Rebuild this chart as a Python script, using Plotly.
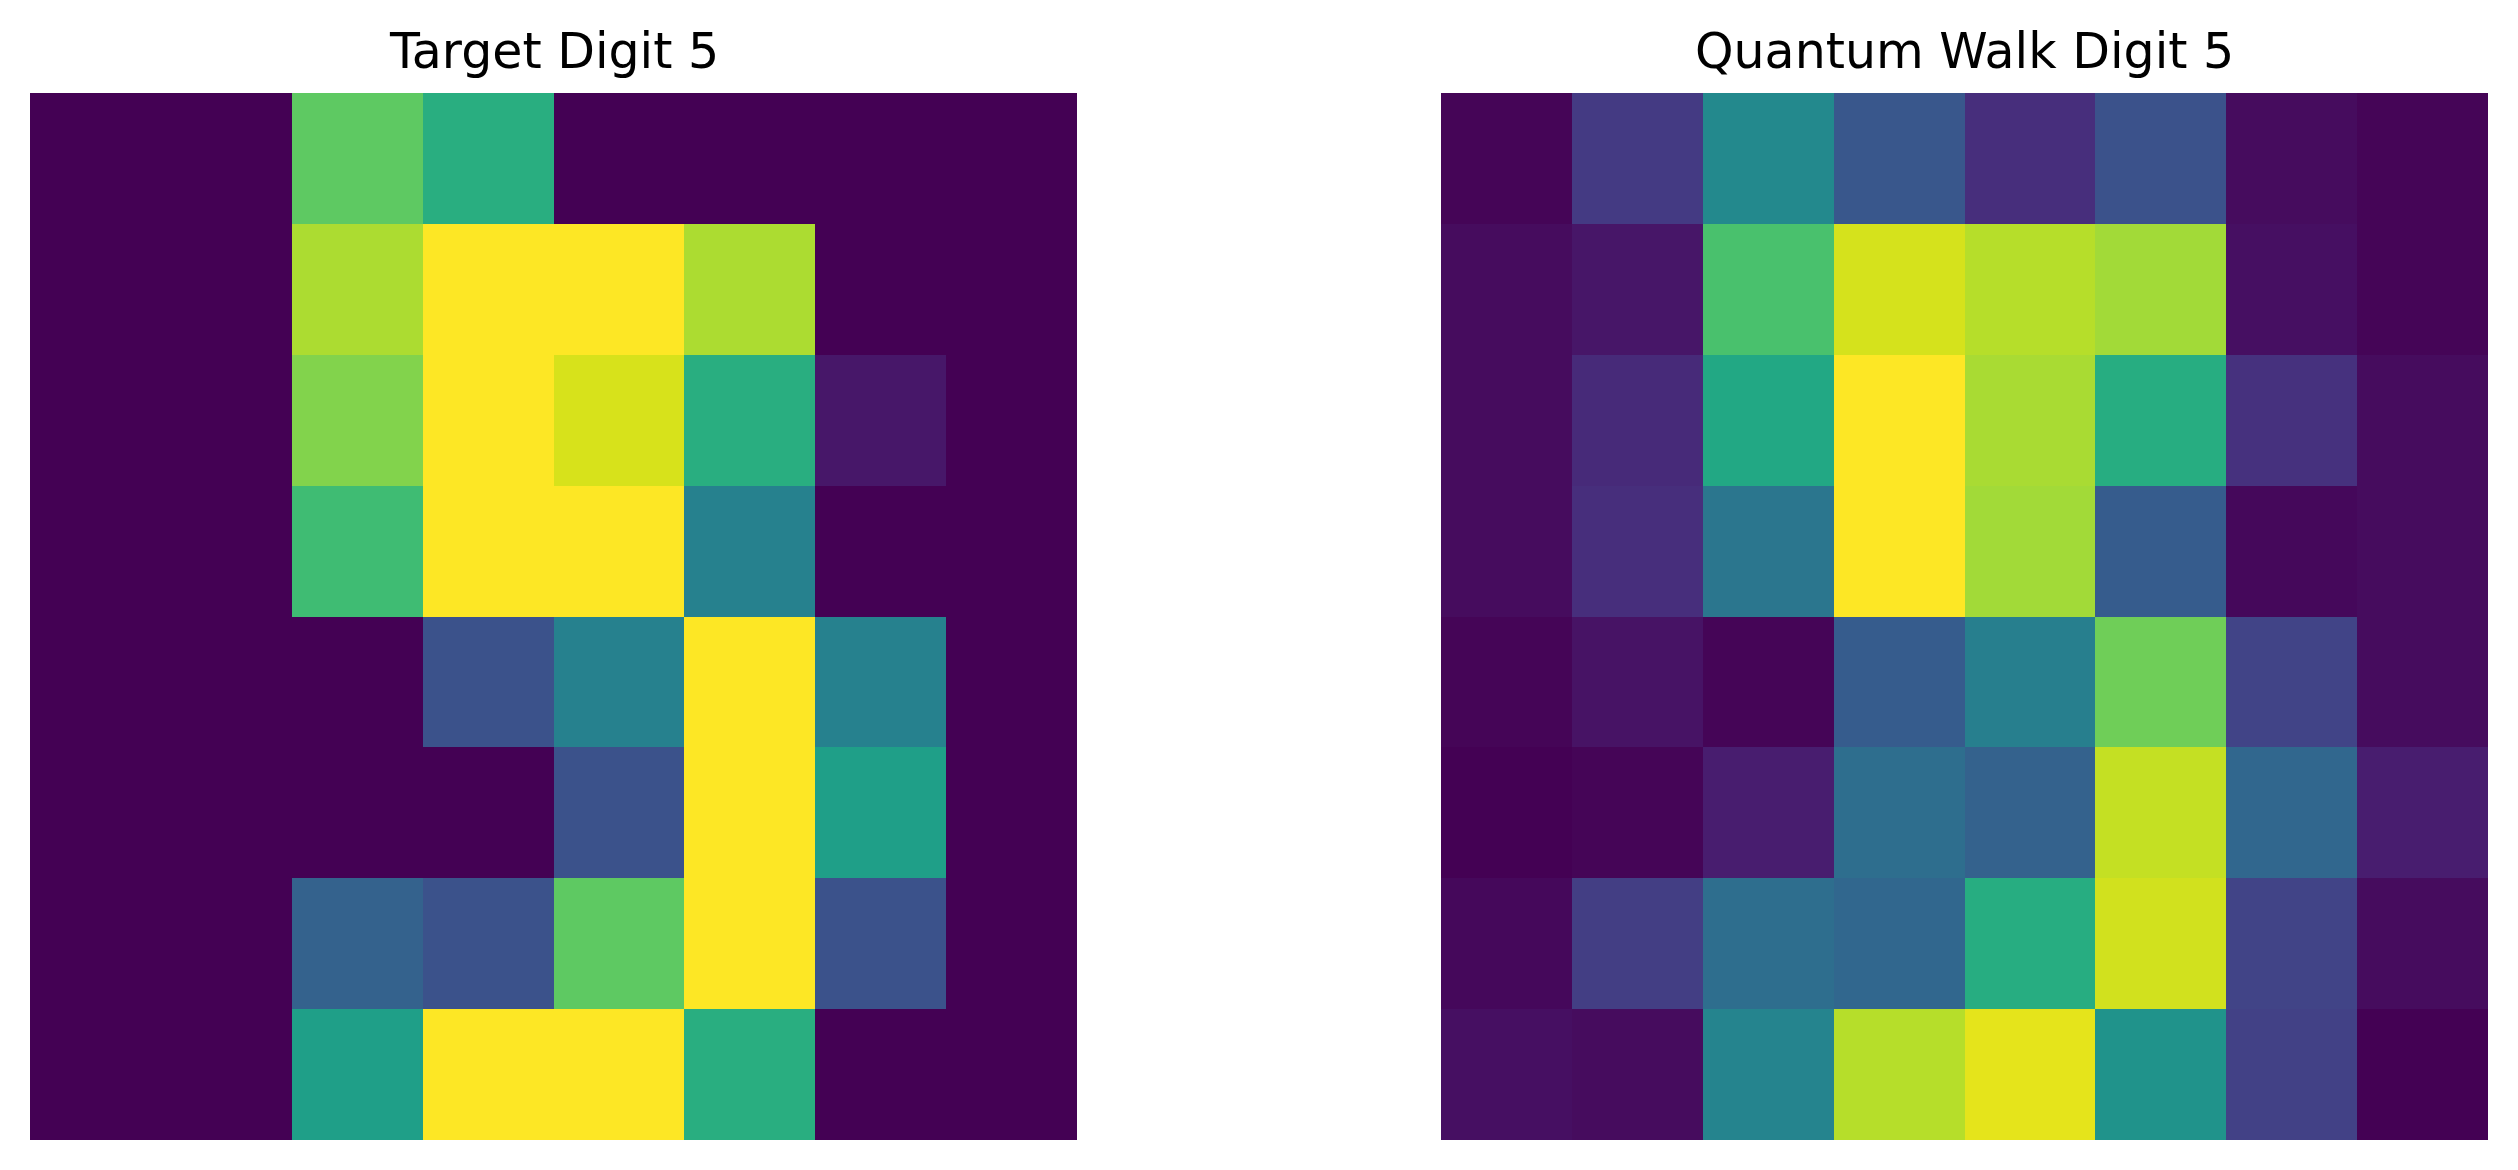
import plotly.graph_objects as go

# Target digit (sklearn digits image, values 0-16), row 0 = top
target_digit = [
    [0, 0, 12, 10, 0, 0, 0, 0],
    [0, 0, 14, 16, 16, 14, 0, 0],
    [0, 0, 13, 16, 15, 10, 1, 0],
    [0, 0, 11, 16, 16, 7, 0, 0],
    [0, 0, 0, 4, 7, 16, 7, 0],
    [0, 0, 0, 0, 4, 16, 9, 0],
    [0, 0, 5, 4, 12, 16, 4, 0],
    [0, 0, 9, 16, 16, 10, 0, 0],
]

# Quantum walk reconstruction (relative intensity)
quantum_walk = [
    [0.01, 0.17, 0.47, 0.27, 0.13, 0.25, 0.03, 0.01],
    [0.03, 0.06, 0.71, 0.935, 0.89, 0.86, 0.04, 0.01],
    [0.03, 0.12, 0.60, 1.00, 0.87, 0.62, 0.14, 0.03],
    [0.03, 0.13, 0.39, 1.00, 0.86, 0.29, 0.02, 0.03],
    [0.01, 0.05, 0.01, 0.29, 0.43, 0.78, 0.20, 0.03],
    [0.00, 0.01, 0.08, 0.36, 0.31, 0.91, 0.33, 0.08],
    [0.02, 0.18, 0.36, 0.33, 0.62, 0.93, 0.20, 0.03],
    [0.04, 0.03, 0.45, 0.89, 0.96, 0.51, 0.19, 0.00],
]

titles = ["Target Digit 5", "Quantum Walk Digit 5"]

viridis_hex = ["#440154", "#471365", "#482475", "#463480", "#414487", "#3b528b",
               "#355f8d", "#2f6c8e", "#2a788e", "#25848e", "#21918c", "#1e9c89",
               "#22a884", "#2fb47c", "#44bf70", "#5ec962", "#7ad151", "#9bd93c",
               "#bddf26", "#dfe318", "#fde725"]
viridis = [[i / (len(viridis_hex) - 1), c] for i, c in enumerate(viridis_hex)]

W, H = 2518, 1170
left_px = [(30, 1077), (1441, 2488)]
top_px, bottom_px = 93, 1140

fig = go.Figure()
data_sets = [target_digit, quantum_walk]
for i, z in enumerate(data_sets):
    flat = [v for row in z for v in row]
    fig.add_trace(go.Heatmap(
        z=z, x=list(range(8)), y=list(range(8)),
        colorscale=viridis, zmin=min(flat), zmax=max(flat),
        showscale=False, xaxis=f"x{i+1 if i else ''}", yaxis=f"y{i+1 if i else ''}",
        hoverinfo="z",
    ))

ydom = [(H - bottom_px) / H, (H - top_px) / H]
axcommon = dict(visible=False, showgrid=False, zeroline=False, fixedrange=True)
fig.update_layout(
    width=W, height=H,
    margin=dict(l=0, r=0, t=0, b=0),
    paper_bgcolor="white", plot_bgcolor="white",
    xaxis=dict(domain=[left_px[0][0] / W, left_px[0][1] / W], range=[-0.5, 7.5], **axcommon),
    yaxis=dict(domain=ydom, range=[7.5, -0.5], **axcommon),
    xaxis2=dict(domain=[left_px[1][0] / W, left_px[1][1] / W], range=[-0.5, 7.5], **axcommon),
    yaxis2=dict(domain=ydom, range=[7.5, -0.5], **axcommon),
)

for i, t in enumerate(titles):
    cx = (left_px[i][0] + left_px[i][1]) / 2 / W
    fig.add_annotation(
        text=t, x=cx, y=(H - 52) / H, xref="paper", yref="paper",
        xanchor="center", yanchor="middle", showarrow=False,
        font=dict(family="DejaVu Sans", size=49, color="black"),
    )

fig.write_html("out.html", config={"displayModeBar": False},
               post_script="document.body.style.margin='0';")
